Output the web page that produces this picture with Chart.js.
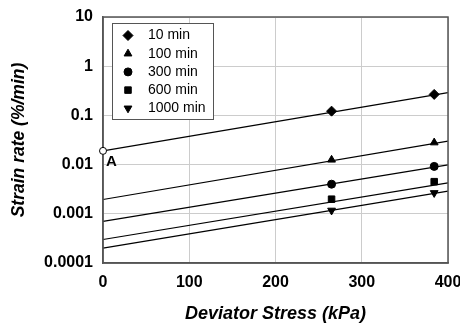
<!DOCTYPE html>
<html>
<head>
<meta charset="utf-8">
<script src="https://cdn.jsdelivr.net/npm/chart.js@4"></script>
<style>
  html, body { margin: 0; padding: 0; background: #fff; }
  #wrap { width: 460px; height: 325px; }
</style>
</head>
<body>
<div id="wrap"><canvas id="chart"></canvas></div>
<script>
// data
const seriesNames = ['10 min', '100 min', '300 min', '600 min', '1000 min'];
const markerStyles = ['rectRot', 'triangle', 'circle', 'rect', 'triangle'];
const markerRotation = [0, 0, 0, 0, 180];
const markerRadius = [5, 4.5, 4, 4.6, 4.5];
const measuredStress = [265, 384];
const rate10 = [0.122, 0.267];
const rate100 = [0.0125, 0.028];
const rate300 = [0.0040, 0.0092];
const rate600 = [0.00198, 0.0045];
const rate1000 = [0.00117, 0.00266];
const fitStress = [0, 400];
const fitStart = [0.019, 0.00195, 0.0007, 0.0003, 0.0002];
const fitEnd = [0.29, 0.030, 0.0099, 0.00424, 0.0029];
const pointA = { x: 0, y: 0.019, label: 'A' };
const yTicks = [0.0001, 0.001, 0.01, 0.1, 1, 10];

const allRates = [rate10, rate100, rate300, rate600, rate1000];
const font = 'Liberation Sans, Arial, sans-serif';

const datasets = [];
seriesNames.forEach(function (name, i) {
    datasets.push({
        type: 'line',
        label: name + ' fit',
        data: fitStress.map(function (x, k) { return { x: x, y: k === 0 ? fitStart[i] : fitEnd[i] }; }),
        borderColor: '#000',
        borderWidth: 1.2,
        pointRadius: 0,
        fill: false,
        clip: false
    });
});
seriesNames.forEach(function (name, i) {
    datasets.push({
        type: 'scatter',
        label: name,
        data: measuredStress.map(function (x, k) { return { x: x, y: allRates[i][k] }; }),
        pointStyle: markerStyles[i],
        rotation: markerRotation[i],
        pointRadius: markerRadius[i],
        backgroundColor: '#000',
        borderColor: '#000',
        borderWidth: 1,
        clip: false
    });
});

const overlay = {
    id: 'overlay',
    afterDraw(chart) {
        const { ctx, chartArea } = chart;
        ctx.save();
        // frame
        ctx.strokeStyle = '#555';
        ctx.lineWidth = 1.5;
        ctx.strokeRect(chartArea.left, chartArea.top, chartArea.right - chartArea.left, chartArea.bottom - chartArea.top);

        // legend box
        const left = chartArea.left + 9, top = chartArea.top + 6;
        const w = 101, h = 96;
        ctx.fillStyle = '#fff';
        ctx.fillRect(left, top, w, h);
        ctx.strokeStyle = '#555';
        ctx.lineWidth = 1;
        ctx.strokeRect(left + 0.5, top + 0.5, w, h);
        ctx.font = '14px ' + font;
        ctx.textBaseline = 'middle';
        seriesNames.forEach(function (name, i) {
            const y = top + 12.5 + i * 18.2;
            ctx.fillStyle = '#000';
            ctx.strokeStyle = '#000';
            Chart.helpers.drawPoint(ctx, {
                pointStyle: markerStyles[i],
                rotation: markerRotation[i],
                radius: markerRadius[i],
                borderWidth: 1
            }, left + 16, y);
            ctx.fillStyle = '#000';
            ctx.fillText(name, left + 36, y);
        });

        // point A
        const xa = chart.scales.x.getPixelForValue(pointA.x);
        const ya = chart.scales.y.getPixelForValue(pointA.y);
        ctx.beginPath();
        ctx.arc(xa, ya, 3.5, 0, Math.PI * 2);
        ctx.fillStyle = '#fff';
        ctx.fill();
        ctx.strokeStyle = '#000';
        ctx.lineWidth = 1;
        ctx.stroke();
        ctx.fillStyle = '#000';
        ctx.font = 'bold 15px ' + font;
        ctx.fillText(pointA.label, xa + 3, ya + 11);
        ctx.restore();
    }
};

new Chart(document.getElementById('chart').getContext('2d'), {
    data: { datasets: datasets },
    options: {
        responsive: true,
        maintainAspectRatio: false,
        animation: false,
        layout: { padding: { top: 17, right: 0, left: 0, bottom: 0 } },
        plugins: {
            legend: { display: false },
            tooltip: { enabled: false }
        },
        scales: {
            x: {
                type: 'linear',
                min: 0,
                max: 400,
                ticks: {
                    stepSize: 100,
                    color: '#000',
                    padding: 10,
                    font: { family: font, size: 16, weight: 'bold' }
                },
                grid: { color: '#cccccc', lineWidth: 1, drawTicks: false },
                border: { color: '#555', width: 1.5 },
                title: {
                    display: true,
                    text: 'Deviator Stress (kPa)',
                    color: '#000',
                    padding: { top: 10, bottom: 0 },
                    font: { family: font, size: 18, weight: 'bold', style: 'italic' }
                },
                afterFit(scale) {
                    scale.height = 62;
                    scale.paddingRight = 12;
                    scale.paddingLeft = 0;
                }
            },
            y: {
                type: 'logarithmic',
                min: 0.0001,
                max: 10,
                afterBuildTicks(scale) {
                    scale.ticks = yTicks.map(function (v) { return { value: v }; });
                },
                ticks: {
                    color: '#000',
                    padding: 10,
                    font: { family: font, size: 16, weight: 'bold' },
                    callback: function (v) { return String(v); }
                },
                grid: { color: '#cccccc', lineWidth: 1, drawTicks: false },
                border: { color: '#555', width: 1.5 },
                title: {
                    display: true,
                    text: 'Strain rate (%/min)',
                    color: '#000',
                    padding: { top: 9, bottom: 0 },
                    font: { family: font, size: 17.5, weight: 'bold', style: 'italic' }
                },
                afterFit(scale) {
                    scale.width = 103;
                    scale.paddingTop = 0;
                    scale.paddingBottom = 0;
                }
            }
        }
    },
    plugins: [overlay]
});
</script>
</body>
</html>
